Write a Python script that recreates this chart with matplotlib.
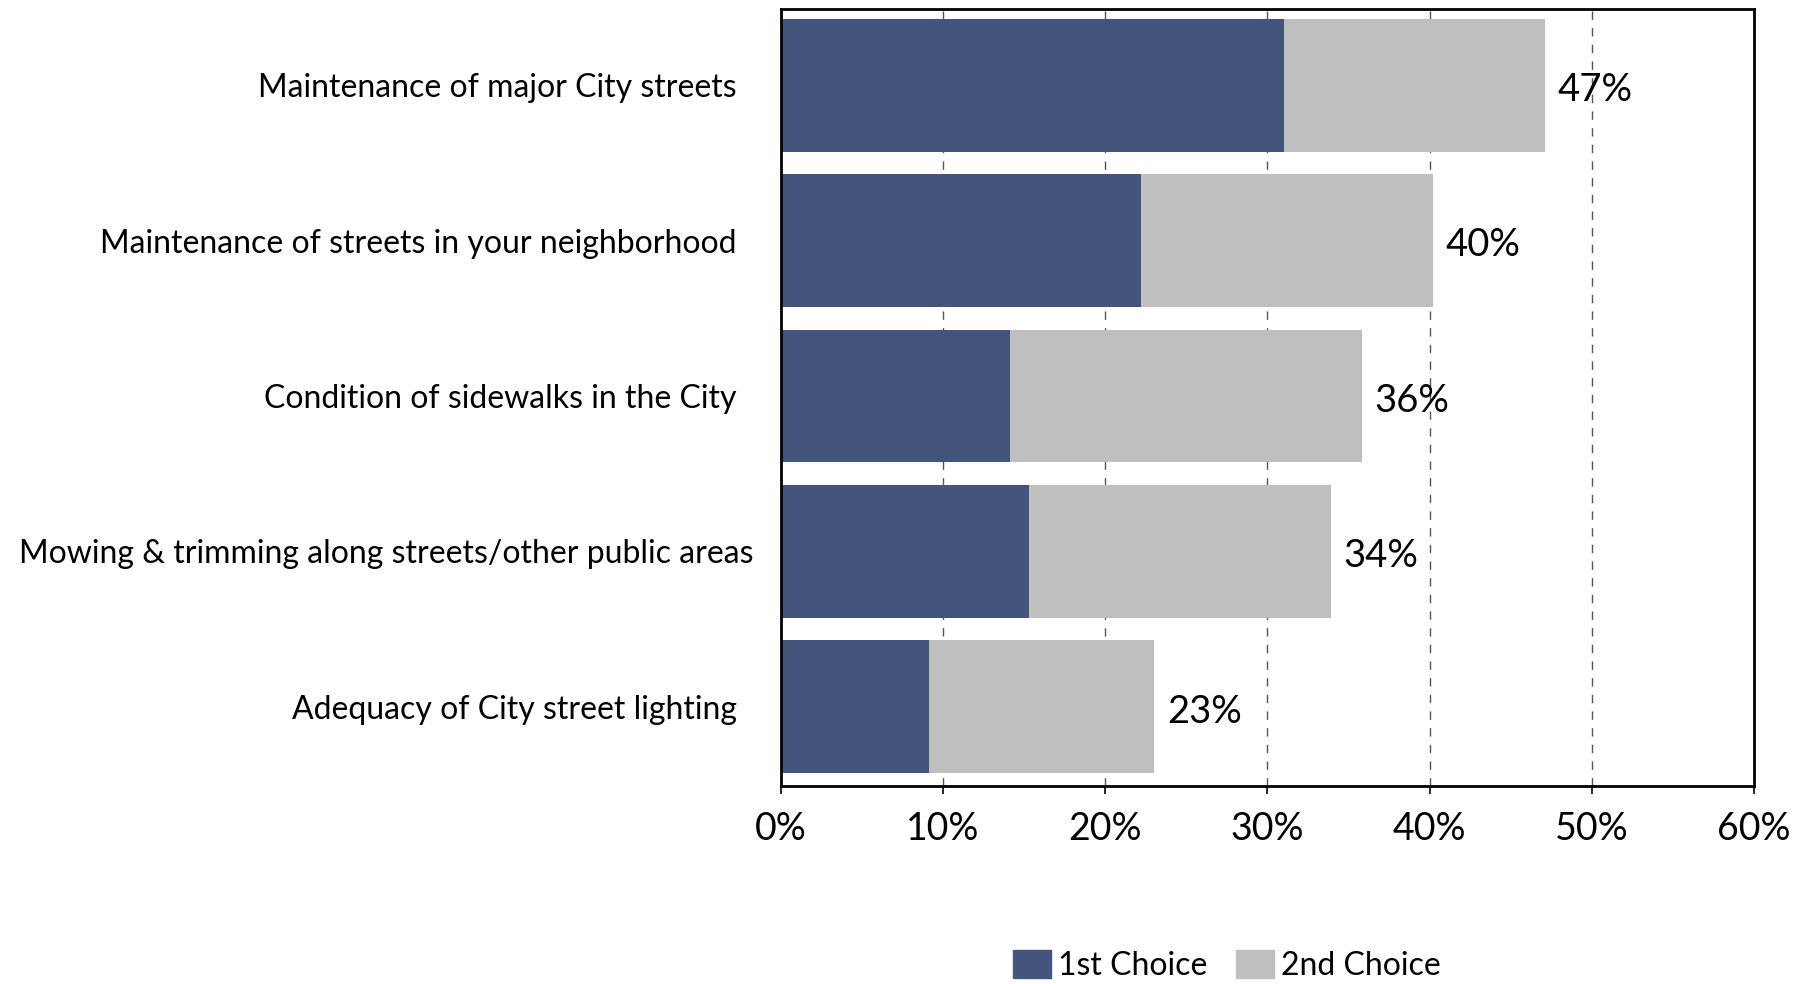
import matplotlib.pyplot as plt
from matplotlib.patches import Patch

plt.rcParams['font.family'] = ['Lato', 'DejaVu Sans']

# Data
categories = [
    'Maintenance of major City streets  ',
    'Maintenance of streets in your neighborhood  ',
    'Condition of sidewalks in the City  ',
    'Mowing & trimming along streets/other public areas',
    'Adequacy of City street lighting  ',
]
first_choice = [31.0, 22.2, 14.1, 15.3, 9.1]
second_choice = [16.1, 18.0, 21.7, 18.6, 13.9]
total_labels = ['47%', '40%', '36%', '34%', '23%']
xticks = [0, 10, 20, 30, 40, 50, 60]

dark = '#44557d'
gray = '#bfbfbf'

fig = plt.figure(figsize=(18.12, 9.84), dpi=100)
ax = fig.add_axes([0.431, 0.201, 0.537, 0.790])

y = list(range(len(categories)))
ax.barh(y, first_choice, height=0.855, color=dark, zorder=2)
ax.barh(y, second_choice, left=first_choice, height=0.855, color=gray, zorder=2)

for i in y:
    total = first_choice[i] + second_choice[i]
    ax.text(total + 0.8, i + 0.03, total_labels[i], va='center', ha='left', fontsize=27.5, zorder=3)

ax.set_xlim(0, 60)
ax.set_ylim(4.51, -0.49)
ax.set_xticks(xticks)
ax.set_xticklabels([f'{t}%' for t in xticks], fontsize=27)
ax.set_yticks(y)
ax.set_yticklabels(categories, fontsize=23)
ax.tick_params(axis='y', length=0, pad=20)
ax.tick_params(axis='x', length=6, width=1.2, pad=12)

ax.grid(axis='x', color='#555555', linestyle=(0, (6, 6)), linewidth=1.0, zorder=0)
for s in ax.spines.values():
    s.set_linewidth(2)
    s.set_color('black')

handles = [Patch(color=dark, label='1st Choice'), Patch(color=gray, label='2nd Choice')]
fig.legend(handles=handles, loc='center', bbox_to_anchor=(0.677, 0.019), ncol=2,
           frameon=False, fontsize=23, handlelength=1.2, handleheight=1.0,
           handletextpad=0.2, columnspacing=0.9)

fig.savefig('out.png', dpi=100)
